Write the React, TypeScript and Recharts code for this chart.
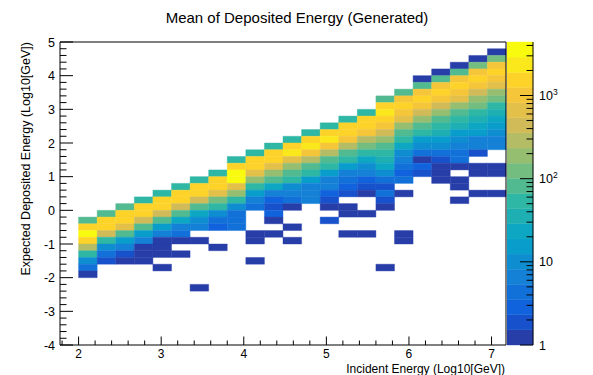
import React from 'react';
import { ComposedChart, XAxis, YAxis, Scatter, ReferenceArea } from 'recharts';

const FONT = '"Liberation Sans", Arial, Helvetica, sans-serif';

const chartTitle = 'Mean of Deposited Energy (Generated)';
const xTitle = 'Incident Energy (Log10[GeV])';
const yTitle = 'Expected Deposited Energy (Log10[GeV])';

// histogram binning
const xDomain: [number, number] = [1.775, 7.175];
const yDomain: [number, number] = [-4, 5];
const firstColLow = 2.0;
const xBinWidth = 0.225;
const yBinHeight = 0.2;

// upper edge (in y) of the highest filled cell of every column
const colTopEdge = [-0.2, 0.0, 0.2, 0.4, 0.6, 0.8, 1.0, 1.2, 1.6, 1.8, 2.0, 2.2, 2.4, 2.6, 2.8, 3.0, 3.4, 3.6, 4.0, 4.2, 4.4, 4.6, 4.8];

// counts per column, from the top cell downwards (0 = empty cell)
const colCounts: number[][] = [
  [82, 1540, 3560, 1540, 290, 54, 10, 4, 1],
  [82, 1540, 1540, 440, 54, 10, 4, 2],
  [82, 1540, 1540, 665, 82, 15, 7, 2, 1],
  [54, 1540, 1540, 440, 82, 15, 7, 1, 1, 1],
  [54, 1540, 1540, 440, 82, 15, 7, 1, 1, 1, 0, 1],
  [54, 1540, 1540, 440, 82, 23, 7, 4, 1, 0, 1],
  [54, 1540, 1540, 440, 82, 23, 10, 7, 0, 1, 0, 0, 0, 0, 0, 0, 1],
  [54, 1540, 1540, 665, 124, 54, 10, 4, 3, 0, 0, 1],
  [54, 1540, 3560, 3560, 665, 190, 54, 10, 4, 4, 4],
  [54, 1540, 1540, 665, 190, 54, 15, 7, 4, 0, 0, 0, 1, 1, 0, 0, 1],
  [54, 1540, 1540, 665, 190, 82, 23, 7, 3, 2, 3, 1, 0, 1],
  [54, 1540, 2340, 665, 190, 82, 54, 10, 7, 4, 1, 0, 0, 1, 0, 1],
  [54, 1540, 2340, 1010, 290, 82, 54, 15, 7, 7, 7],
  [54, 1540, 2340, 1010, 290, 82, 54, 15, 7, 7, 3, 2, 1, 0, 2],
  [54, 1540, 1540, 1010, 290, 82, 54, 15, 7, 4, 3, 2, 0, 1, 1, 0, 0, 1],
  [54, 1540, 1540, 1010, 290, 124, 54, 23, 10, 7, 3, 2, 1, 0, 0, 1, 0, 0, 1],
  [82, 1540, 2340, 1540, 1010, 440, 190, 82, 54, 35, 23, 10, 4, 2, 4, 2, 1, 0, 0, 0, 0, 0, 0, 0, 0, 1],
  [82, 1010, 1540, 1010, 665, 190, 82, 54, 23, 10, 7, 4, 3, 4, 0, 1, 0, 0, 0, 0, 0, 1, 1],
  [1, 82, 1010, 1540, 1010, 440, 190, 82, 54, 15, 10, 4, 1, 3, 2],
  [1, 82, 1010, 1540, 1010, 440, 190, 82, 54, 35, 15, 10, 4, 2, 1, 1, 1],
  [1, 82, 1010, 1540, 1010, 665, 190, 82, 54, 35, 15, 10, 7, 4, 4, 1, 0, 1, 1, 0, 1],
  [1, 124, 1010, 1540, 1010, 440, 190, 124, 54, 35, 23, 15, 7, 7, 2, 0, 1, 1, 0, 0, 1],
  [1, 124, 1010, 1540, 1010, 665, 190, 124, 54, 35, 23, 15, 10, 7, 7, 0, 0, 1, 1, 0, 0, 1],
];

// axis ticks
const xMajorTicks = [2, 3, 4, 5, 6, 7];
const yMajorTicks = [-4, -3, -2, -1, 0, 1, 2, 3, 4, 5];
const zMajorTicks = [1, 10, 100, 1000];
const zMax = 4400;
const nLevels = 20;

const r1 = (v: number) => Math.round(v * 1000) / 1000;
const xTicks: number[] = [];
for (let n = 1; n <= 7; n++) for (let m = 0; m < 5; m++) { const v = r1(n + m * 0.2); if (v >= xDomain[0] && v <= xDomain[1]) xTicks.push(v); }
const yTicks: number[] = [];
for (let n = -4; n <= 5; n++) for (let m = 0; m < 5; m++) { const v = r1(n + m * 0.2); if (v <= yDomain[1]) yTicks.push(v); }
const zTicks: number[] = [];
for (const d of [1, 10, 100, 1000]) for (let m = 1; m <= 9; m++) { const v = d * m; if (v <= zMax) zTicks.push(v); }

// kBird palette
const birdStops = [0, 0.125, 0.25, 0.375, 0.5, 0.625, 0.75, 0.875, 1];
const birdR = [0.2082, 0.0592, 0.078, 0.0232, 0.1802, 0.5301, 0.8186, 0.9956, 0.9764];
const birdG = [0.1664, 0.3599, 0.5041, 0.6419, 0.7178, 0.7492, 0.7328, 0.7862, 0.9832];
const birdB = [0.5293, 0.8684, 0.8385, 0.7914, 0.6425, 0.4662, 0.3499, 0.1968, 0.0539];
function bird(t: number) {
  let s = 0;
  while (s < birdStops.length - 2 && t > birdStops[s + 1]) s++;
  const f = (t - birdStops[s]) / (birdStops[s + 1] - birdStops[s]);
  const c = (a: number[]) => Math.round(255 * (a[s] + (a[s + 1] - a[s]) * f));
  return `rgb(${c(birdR)},${c(birdG)},${c(birdB)})`;
}
const dl = Math.log10(zMax) / nLevels;
function levelColor(i: number) {
  const idx = Math.floor(((i + 0.99) * 255) / nLevels);
  return bird(Math.min(1, idx / 254));
}
function levelOf(v: number) {
  return Math.max(0, Math.min(nLevels - 1, Math.floor(Math.log10(v) / dl)));
}

type Cell = { x1: number; x2: number; y1: number; y2: number; x: number; y: number; v: number };
const cells: Cell[] = [];
colCounts.forEach((col, k) => {
  const x1 = r1(firstColLow + k * xBinWidth);
  const x2 = r1(x1 + xBinWidth);
  col.forEach((v, i) => {
    if (!v) return;
    const y2 = Math.round((colTopEdge[k] - i * yBinHeight) * 10) / 10;
    const y1 = Math.round((y2 - yBinHeight) * 10) / 10;
    cells.push({ x1, x2, y1, y2, x: (x1 + x2) / 2, y: (y1 + y2) / 2, v });
  });
});

const bands = Array.from({ length: nLevels }, (_, i) => ({
  x: 0.5,
  z1: Math.pow(10, i * dl),
  z2: Math.pow(10, (i + 1) * dl),
  color: levelColor(i),
}));

const isMajor = (v: number, majors: number[]) => majors.some((m) => Math.abs(m - v) < 1e-6);

const XTick = (props: any) => {
  const { x, y, payload } = props;
  const v = payload.value;
  const major = isMajor(v, xMajorTicks);
  return (
    <g>
      <line x1={x} x2={x} y1={y} y2={y - (major ? 8.5 : 4.5)} stroke="#000" strokeWidth={1} />
      {major && (
        <text x={x} y={y + 12.5} textAnchor="middle" fontSize={12} fontFamily={FONT} fill="#000">
          {Math.round(v)}
        </text>
      )}
    </g>
  );
};

const YTick = (props: any) => {
  const { x, y, payload } = props;
  const v = payload.value;
  const major = isMajor(v, yMajorTicks);
  return (
    <g>
      <line x1={x} x2={x + (major ? 13 : 6.5)} y1={y} y2={y} stroke="#000" strokeWidth={1} />
      {major && (
        <text x={x - 5} y={y + 4.5} textAnchor="end" fontSize={12.5} fontFamily={FONT} fill="#000">
          {Math.round(v)}
        </text>
      )}
    </g>
  );
};

const ZTick = (props: any) => {
  const { x, y, payload } = props;
  const v = payload.value;
  const major = isMajor(v, zMajorTicks);
  const e = Math.round(Math.log10(v));
  return (
    <g>
      <line x1={x} x2={x - (major ? 13 : 6.5)} y1={y} y2={y} stroke="#000" strokeWidth={1} />
      {major && (
        <text x={x + 6} y={y + 4.5} textAnchor="start" fontSize={12.5} fontFamily={FONT} fill="#000">
          {e === 0 ? '1' : e === 1 ? '10' : (
            <>
              <tspan>10</tspan>
              <tspan dy={-5} fontSize={8.5}>{e}</tspan>
            </>
          )}
        </text>
      )}
    </g>
  );
};

export default function App() {
  return (
    <div style={{ position: 'relative', width: 593, height: 375, background: '#fff', overflow: 'hidden' }}>
      <style>{'body{margin:0;}'}</style>
      <div style={{ position: 'absolute', left: 0, top: 0 }}>
        <ComposedChart width={593} height={375} margin={{ top: 42, right: 87, bottom: 29, left: 59 }} data={cells}>
          <XAxis type="number" dataKey="x" domain={xDomain} allowDataOverflow ticks={xTicks} interval={0}
            tick={XTick} tickLine={false} axisLine={false} tickSize={0} tickMargin={0} height={1} />
          <YAxis type="number" dataKey="y" domain={yDomain} allowDataOverflow ticks={yTicks} interval={0}
            tick={YTick} tickLine={false} axisLine={false} tickSize={0} tickMargin={0} width={1} />
          <Scatter data={cells} dataKey="y" shape={() => <g />} isAnimationActive={false} />
          {cells.map((c, i) => {
            const col = levelColor(levelOf(c.v));
            return (
              <ReferenceArea key={i} x1={c.x1} x2={c.x2} y1={c.y1} y2={c.y2} fill={col} fillOpacity={1}
                stroke={col} strokeWidth={0.4} ifOverflow="visible" />
            );
          })}
          <ReferenceArea x1={xDomain[0]} x2={xDomain[1]} y1={yDomain[0]} y2={yDomain[1]} fill="none" fillOpacity={0}
            stroke="#000" strokeWidth={1} ifOverflow="visible" />
        </ComposedChart>
      </div>
      <div style={{ position: 'absolute', left: 507, top: 0 }}>
        <ComposedChart width={86} height={375} margin={{ top: 42, right: 59, bottom: 30, left: 0 }} data={bands}>
          <XAxis type="number" dataKey="x" domain={[0, 1]} hide />
          <YAxis type="number" dataKey="z1" scale="log" domain={[1, zMax]} allowDataOverflow orientation="right"
            ticks={zTicks} interval={0} tick={ZTick} tickLine={false} axisLine={{ stroke: '#000' }}
            tickSize={0} tickMargin={0} width={1} />
          <Scatter data={bands} dataKey="z1" shape={() => <g />} isAnimationActive={false} />
          {bands.map((b, i) => (
            <ReferenceArea key={i} x1={0} x2={1} y1={b.z1} y2={b.z2} fill={b.color} fillOpacity={1}
              stroke={b.color} strokeWidth={0.4} ifOverflow="visible" />
          ))}
        </ComposedChart>
      </div>
      <svg width={593} height={375} style={{ position: 'absolute', left: 0, top: 0, pointerEvents: 'none' }}>
        <text x={297} y={23} textAnchor="middle" fontSize={15} fontFamily={FONT} fill="#000">{chartTitle}</text>
        <text x={505} y={372.5} textAnchor="end" fontSize={12} fontFamily={FONT} fill="#000">{xTitle}</text>
        <text x={30} y={42} textAnchor="end" fontSize={12.5} fontFamily={FONT} fill="#000"
          transform="rotate(-90, 30, 42)">{yTitle}</text>
      </svg>
    </div>
  );
}
